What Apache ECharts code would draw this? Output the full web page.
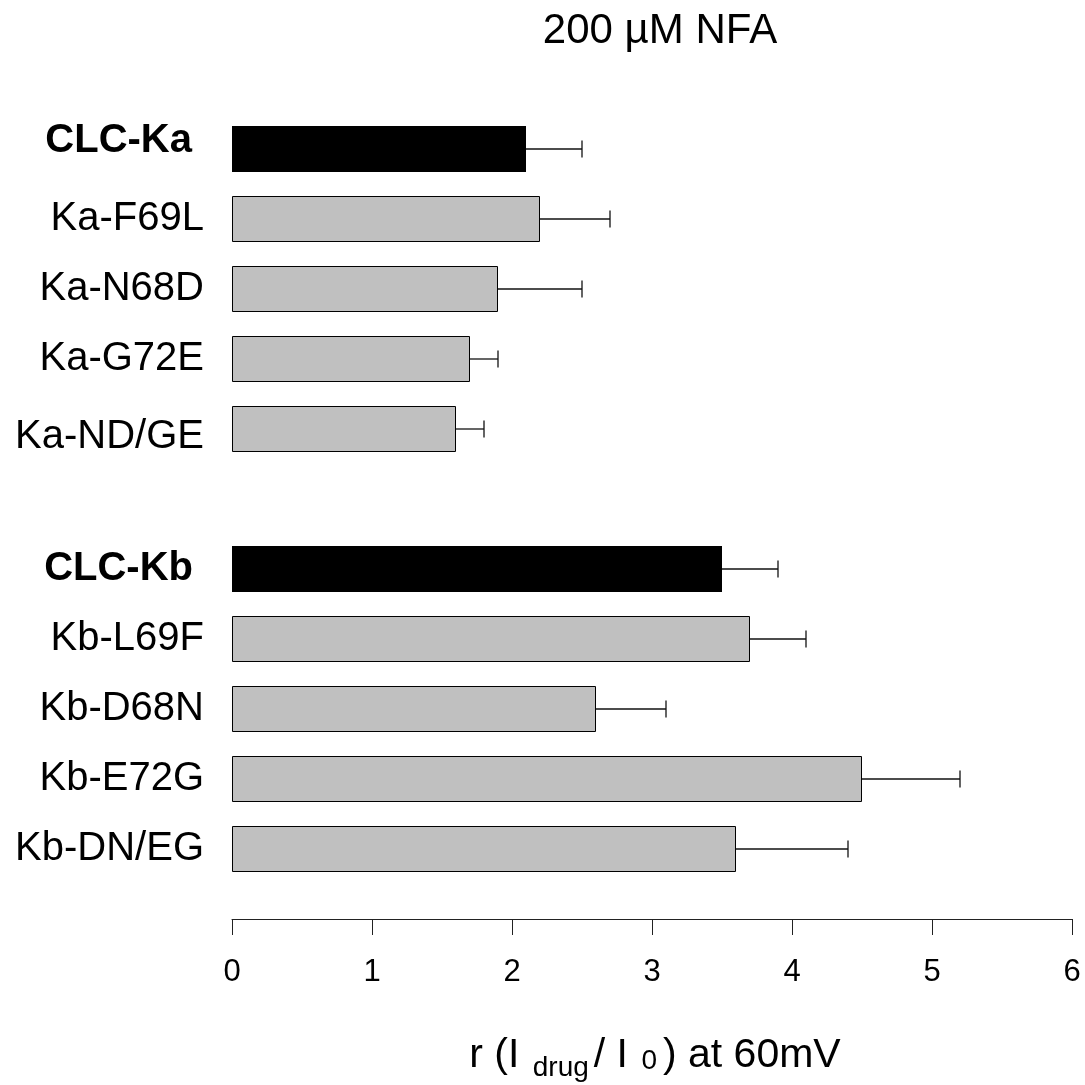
<!DOCTYPE html>
<html>
<head>
<meta charset="utf-8">
<script src="https://cdn.jsdelivr.net/npm/echarts@6/dist/echarts.min.js"></script>
<style>html,body{margin:0;padding:0;background:#fff;}#chart{width:1085px;height:1085px;}</style>
</head>
<body>
<div id="chart"></div>
<script>
const categories = ['CLC-Ka','Ka-F69L','Ka-N68D','Ka-G72E','Ka-ND/GE','','CLC-Kb','Kb-L69F','Kb-D68N','Kb-E72G','Kb-DN/EG'];
const means = [2.1, 2.2, 1.9, 1.7, 1.6, null, 3.5, 3.7, 2.6, 4.5, 3.6];
const upper = [2.5, 2.7, 2.5, 1.9, 1.8, null, 3.9, 4.1, 3.1, 5.2, 4.4];
const wildType = ['CLC-Ka', 'CLC-Kb'];
const xTicks = [0, 1, 2, 3, 4, 5, 6];

const FONT = "'Liberation Sans', Arial, sans-serif";
const chart = echarts.init(document.getElementById('chart'), null, {renderer: 'canvas'});

const barData = categories.map((c, i) => {
  if (means[i] === null) return '-';
  const wt = wildType.indexOf(c) >= 0;
  return {
    value: means[i],
    itemStyle: wt ? {color: '#000', borderColor: '#000', borderWidth: 0}
                  : {color: '#c0c0c0', borderColor: '#000', borderWidth: 1}
  };
});
const errData = [];
categories.forEach((c, i) => { if (means[i] !== null) errData.push([i, means[i], upper[i]]); });

chart.setOption({
  animation: false,
  backgroundColor: '#fff',
  title: [{
    text: '200 µM NFA',
    left: 660, top: 10, textAlign: 'center', padding: 0,
    textStyle: {fontFamily: FONT, fontSize: 42, fontWeight: 'normal', color: '#000'}
  }, {
    text: 'r (I {s1|drug}{m|/ I }{s2|0}{m|) at 60mV}',
    left: 655, top: 1029, textAlign: 'center', padding: 0,
    textStyle: {
      fontFamily: FONT, fontSize: 41, fontWeight: 'normal', color: '#000',
      rich: {
        m: {fontFamily: FONT, fontSize: 41, color: '#000'},
        s1: {fontFamily: FONT, fontSize: 28, color: '#000', padding: [25, 5, 0, 2]},
        s2: {fontFamily: FONT, fontSize: 28, color: '#000', padding: [11, 6, 0, 2]}
      }
    }
  }],
  grid: {left: 232, right: 13, top: 114, bottom: 201, containLabel: false},
  xAxis: {
    type: 'value', min: 0, max: 6, interval: 1, position: 'bottom', offset: 35,
    axisLine: {show: true, lineStyle: {color: '#222', width: 1}},
    axisTick: {show: true, inside: false, length: 16, lineStyle: {color: '#222', width: 1}},
    axisLabel: {
      fontFamily: FONT, fontSize: 31, color: '#000', margin: 38,
      formatter: v => xTicks.indexOf(v) >= 0 ? String(v) : ''
    },
    splitLine: {show: false}
  },
  yAxis: {
    type: 'category', data: categories, inverse: true,
    axisLine: {show: false}, axisTick: {show: false}, splitLine: {show: false},
    axisLabel: {
      fontFamily: FONT, fontSize: 40, color: '#000', margin: 28, interval: 0,
      formatter: v => {
        if (v === 'CLC-Ka') return '{a|' + v + '}';
        if (v === 'CLC-Kb') return '{b|' + v + '}';
        if (v === 'Ka-ND/GE') return '{d|' + v + '}';
        return v;
      },
      rich: {
        a: {fontFamily: FONT, fontSize: 40, fontWeight: 'bold', color: '#000', padding: [0, 12, 16, 0]},
        b: {fontFamily: FONT, fontSize: 40, fontWeight: 'bold', color: '#000', padding: [0, 11, 0, 0]},
        d: {fontFamily: FONT, fontSize: 40, color: '#000', padding: [16, 0, 0, 0]}
      }
    }
  },
  series: [{
    type: 'bar', data: barData, barWidth: 46, z: 2
  }, {
    type: 'custom', z: 3,
    data: errData,
    renderItem: function (params, api) {
      const cat = api.value(0);
      const p0 = api.coord([api.value(1), cat]);
      const p1 = api.coord([api.value(2), cat]);
      const half = 8.5;
      const style = {stroke: '#111', lineWidth: 1.3, fill: null};
      return {
        type: 'group',
        children: [
          {type: 'line', shape: {x1: p0[0], y1: p0[1], x2: p1[0], y2: p1[1]}, style: style},
          {type: 'line', shape: {x1: p1[0], y1: p1[1] - half, x2: p1[0], y2: p1[1] + half}, style: style}
        ]
      };
    }
  }]
});
</script>
</body>
</html>
